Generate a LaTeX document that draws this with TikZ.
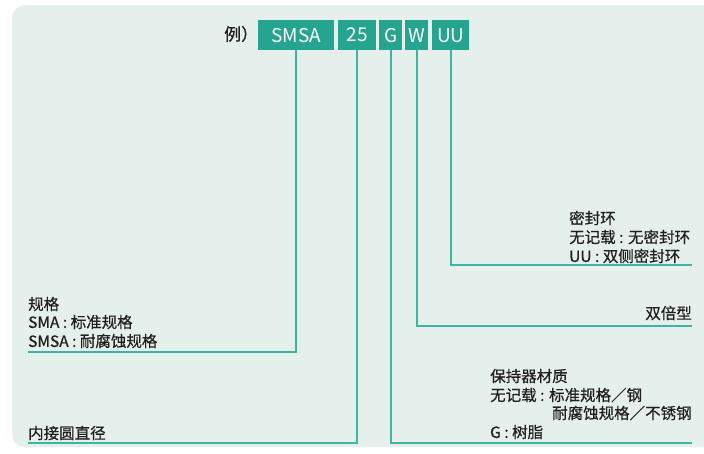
\documentclass[tikz,border=0pt]{standalone}
\usepackage{fontspec}
\setmainfont{Noto Sans CJK SC}
\newfontfamily\lblfont{Noto Sans CJK SC}[FakeBold=0.6]
\definecolor{panel}{HTML}{E5EFEC}
\definecolor{boxfill}{HTML}{25A58F}
\definecolor{linec}{HTML}{3DB5A0}
\definecolor{txt}{HTML}{231F20}
\tikzset{
  codebox/.style={fill=boxfill, text=white, minimum height=30pt, inner sep=0pt, font=\fontsize{19}{19}\selectfont, anchor=north west},
  lbl/.style={anchor=west, inner sep=0pt, text=txt, font=\lblfont\fontsize{15.5}{15.5}\selectfont},
  lblr/.style={anchor=east, inner sep=0pt, text=txt, font=\lblfont\fontsize{15.5}{15.5}\selectfont},
  conn/.style={draw=linec, line width=2pt},
}
\begin{document}
\begin{tikzpicture}[x=1pt,y=-1pt]
\useasboundingbox (0,0) rectangle (704,453);
\fill[panel, rounded corners=13pt] (12,5) rectangle (730,447);
% example
\node[lbl, font=\lblfont\fontsize{17}{17}\selectfont] (ex) at (224,34) {例）};
\node[codebox, minimum width=76pt] (smsa) at (258,20) {SMSA};
\node[codebox, minimum width=38pt] (size) at (338,20) {25};
\node[codebox, minimum width=23pt] (g) at (379,20) {G};
\node[codebox, minimum width=23pt] (w) at (405,20) {W};
\node[codebox, minimum width=37pt] (uu) at (432,20) {UU};
% end coordinates
\coordinate (e1) at (28,352);
\coordinate (e2) at (28,443);
\coordinate (e3) at (692,443);
\coordinate (e4) at (692,326);
\coordinate (e5) at (692,265);
\draw[conn] (smsa.south) |- (e1);
\draw[conn] (size.south) |- (e2);
\draw[conn] (g.south) |- (e3);
\draw[conn] (w.south) |- (e4);
\draw[conn] (uu.south) |- (e5);
% left labels
\node[lbl] (t1) at (28,304) {规格};
\node[lbl] (t2) at (28,322) {SMA : 标准规格};
\node[lbl] (t3) at (28,341) {SMSA : 耐腐蚀规格};
\node[lbl] (t4) at (28,433) {内接圆直径};
% right labels
\node[lbl] (s1) at (569,218) {密封环};
\node[lbl] (s2) at (569,237) {无记载 : 无密封环};
\node[lbl] (s3) at (569,256) {UU : 双侧密封环};
\node[lblr] (d1) at (692,313) {双倍型};
\node[lbl] (m1) at (490,376) {保持器材质};
\node[lbl] (m2) at (490,395) {无记载 : 标准规格／钢};
\node[lbl] (m3) at (552,413) {耐腐蚀规格／不锈钢};
\node[lbl] (m4) at (490,432) {G : 树脂};
\end{tikzpicture}
\end{document}
